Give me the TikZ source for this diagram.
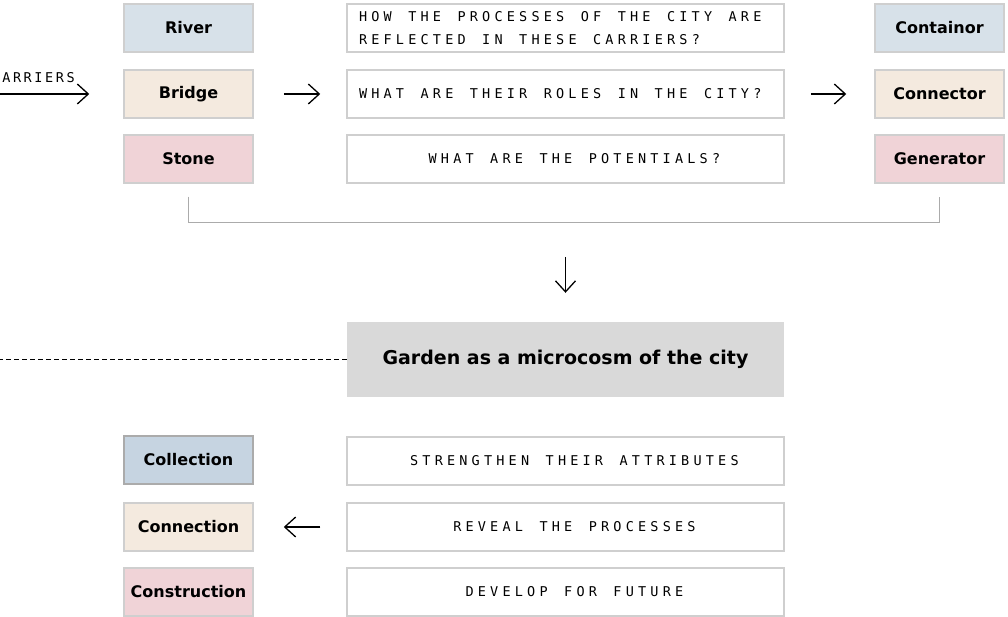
\documentclass[tikz,border=0pt]{standalone}
\usepackage{fontspec}
\setmainfont{DejaVu Sans}
\newfontfamily\qfont{DejaVu Sans Mono}
\usepackage{xcolor}
\usepackage{tikz}
\usetikzlibrary{arrows.meta}
\definecolor{MCBlue}{HTML}{D7E1E9}
\definecolor{MCBlueDk}{HTML}{C6D4E1}
\definecolor{MCSand}{HTML}{F4EADF}
\definecolor{MCRose}{HTML}{F0D3D7}
\definecolor{MCGrey}{HTML}{D9D9D9}
\definecolor{MCLine}{HTML}{CFCFCF}
\definecolor{MCEdge}{HTML}{ABABAB}
% letter spaced capitals
\ExplSyntaxOn
\NewDocumentCommand\spaced{O{4.2pt}m}{\str_map_inline:nn{#2}
  {\str_if_eq:nnTF{##1}{~}{\hspace{8.1pt}}{##1}\kern#1}}
\ExplSyntaxOff
\newcommand\qtext{\qfont\fontsize{13.5}{23}\selectfont}
\tikzset{
  carrier/.style={draw=MCLine,line width=1.5pt,minimum width=129pt,minimum height=48pt,
    inner sep=0pt,font=\fontsize{16}{18}\selectfont\bfseries},
  qbox/.style={draw=MCLine,line width=1.5pt,minimum width=437pt,minimum height=48pt,
    inner xsep=12pt,inner ysep=0pt,text width=413pt,font=\qtext},
  qleft/.style={qbox,align=left},
  qmid/.style={qbox,align=center,execute at begin node={\hspace*{22pt}}},
  flow/.style={line width=1.3pt,-{Straight Barb[length=11pt,width=20pt,line width=1.3pt]}},
}
\begin{document}
\begin{tikzpicture}[x=1pt,y=1pt]
\path[use as bounding box] (0,0) rectangle (1008,616);
% carriers
\node[carrier,fill=MCBlue] (river) at (188.5,588) {River};
\node[carrier,fill=MCSand] (bridge) at (188.5,522) {Bridge};
\node[carrier,fill=MCRose] (stone) at (188.5,457) {Stone};
% questions
\node[qleft] (q1) at (565.5,588) {\spaced{HOW THE PROCESSES OF THE CITY ARE}\\\spaced{REFLECTED IN THESE CARRIERS?}};
\node[qleft] (q2) at (565.5,522) {\spaced{WHAT ARE THEIR ROLES IN THE CITY?}};
\node[qmid] (q3) at (565.5,457) {\spaced{WHAT ARE THE POTENTIALS?}};
% roles
\node[carrier,fill=MCBlue] (cont) at (939.5,588) {Containor};
\node[carrier,fill=MCSand] (conn) at (939.5,522) {Connector};
\node[carrier,fill=MCRose] (gen) at (939.5,457) {Generator};
% incoming
\coordinate (cin) at (-10,522);
\node[anchor=base east,font=\qtext,inner xsep=0pt] (carr) at (77.6,533) {\spaced[2.6pt]{CARRIERS}};
\draw[flow] (cin) -- ([xshift=-34pt]bridge.west);
\draw[flow] ([xshift=30pt]bridge.east) -- ([xshift=-26pt]q2.west);
\draw[flow] ([xshift=26pt]q2.east) -- ([xshift=-28pt]conn.west);
% bracket
\draw[MCEdge,line width=1.5pt] ([yshift=-13pt]stone.south) -- ++(0,-26) -| ([yshift=-13pt]gen.south);
% garden
\node[fill=MCGrey,minimum width=437pt,minimum height=75pt,inner sep=0pt,
  font=\fontsize{19}{22}\selectfont\bfseries] (garden) at (565.5,256.5) {Garden as a microcosm of the city};
\draw[flow] ([yshift=65pt]garden.north) -- ([yshift=29pt]garden.north);
\coordinate (dout) at (-10,256);
\draw[line width=1pt,dash pattern=on 5pt off 3pt] (dout) -- (garden.west |- dout);
% actions
\node[qmid] (r1) at (565.5,155) {\spaced{STRENGTHEN THEIR ATTRIBUTES}};
\node[qmid] (r2) at (565.5,89) {\spaced{REVEAL THE PROCESSES}};
\node[qmid] (r3) at (565.5,24) {\spaced{DEVELOP FOR FUTURE}};
\node[carrier,fill=MCBlueDk,draw=MCEdge] (coll) at (188.5,156) {Collection};
\node[carrier,fill=MCSand] (cnx) at (188.5,89) {Connection};
\node[carrier,fill=MCRose] (cons) at (188.5,24) {Construction};
\draw[flow] ([xshift=-26pt]r2.west) -- ([xshift=30pt]cnx.east);
\end{tikzpicture}
\end{document}
